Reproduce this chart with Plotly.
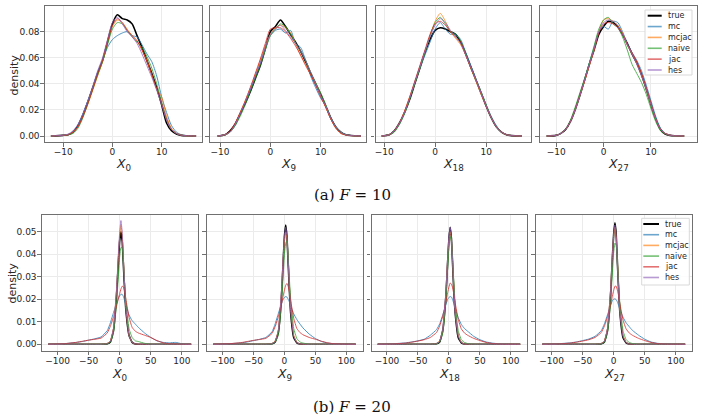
import plotly.graph_objects as go

W, H = 703, 418

series = ["true", "mc", "mcjac", "naive", "jac", "hes"]
colors = {"true": "#000000", "mc": "#1f77b4", "mcjac": "#ff7f0e",
          "naive": "#2ca02c", "jac": "#d62728", "hes": "#9467bd"}

# ---------------- F = 10 ----------------
x_a0 = [-12.5, -10, -9, -8, -7, -6, -5, -4, -3, -2, -1, 0, 1, 2, 3, 4, 5, 6, 7, 8, 9, 10, 11, 12, 13, 14, 15, 17]
a0_true = [0, 0.0005, 0.001, 0.003, 0.008, 0.016, 0.026, 0.037, 0.048, 0.058, 0.072, 0.086, 0.093, 0.090, 0.089, 0.086, 0.077, 0.068, 0.058, 0.048, 0.037, 0.024, 0.010, 0.004, 0.0015, 0.0005, 0.0002, 0]
a0_mc = [0, 0.0005, 0.001, 0.003, 0.008, 0.017, 0.027, 0.037, 0.049, 0.058, 0.068, 0.074, 0.077, 0.079, 0.080, 0.077, 0.076, 0.070, 0.063, 0.057, 0.046, 0.030, 0.018, 0.008, 0.003, 0.001, 0.0003, 0]
a0_mcjac = [0, 0.0005, 0.001, 0.003, 0.007, 0.015, 0.024, 0.035, 0.046, 0.057, 0.072, 0.084, 0.089, 0.087, 0.082, 0.077, 0.073, 0.066, 0.058, 0.047, 0.036, 0.030, 0.015, 0.006, 0.002, 0.0007, 0.0002, 0]
a0_naive = [0, 0.0005, 0.001, 0.002, 0.006, 0.014, 0.025, 0.036, 0.047, 0.057, 0.070, 0.082, 0.087, 0.086, 0.081, 0.076, 0.072, 0.068, 0.061, 0.052, 0.040, 0.026, 0.013, 0.005, 0.002, 0.0007, 0.0002, 0]
a0_jac = [0, 0.0005, 0.001, 0.003, 0.007, 0.015, 0.025, 0.036, 0.048, 0.058, 0.073, 0.085, 0.090, 0.087, 0.081, 0.077, 0.073, 0.066, 0.057, 0.047, 0.036, 0.025, 0.013, 0.005, 0.002, 0.0006, 0.0002, 0]
a0_hes = [0, 0.0006, 0.0015, 0.004, 0.009, 0.017, 0.027, 0.038, 0.050, 0.060, 0.074, 0.087, 0.091, 0.086, 0.080, 0.076, 0.071, 0.063, 0.054, 0.045, 0.035, 0.024, 0.012, 0.005, 0.002, 0.0006, 0.0002, 0]

x_a9 = [-10.5, -9, -8, -7, -6, -5, -4, -3, -2, -1, 0, 1, 2, 3, 4, 5, 6, 7, 8, 9, 10, 11, 12, 13, 14, 15, 16, 18]
a9_true = [0, 0.001, 0.004, 0.009, 0.017, 0.025, 0.034, 0.044, 0.054, 0.067, 0.080, 0.084, 0.089, 0.084, 0.078, 0.072, 0.065, 0.057, 0.048, 0.040, 0.032, 0.023, 0.014, 0.007, 0.003, 0.001, 0.0004, 0]
a9_mc = [0, 0.001, 0.003, 0.008, 0.017, 0.026, 0.035, 0.046, 0.056, 0.067, 0.077, 0.081, 0.082, 0.079, 0.081, 0.071, 0.068, 0.058, 0.046, 0.037, 0.029, 0.023, 0.013, 0.007, 0.003, 0.001, 0.0004, 0]
a9_mcjac = [0, 0.001, 0.003, 0.009, 0.018, 0.027, 0.037, 0.047, 0.058, 0.069, 0.078, 0.083, 0.085, 0.083, 0.079, 0.071, 0.062, 0.055, 0.047, 0.040, 0.031, 0.022, 0.013, 0.006, 0.002, 0.0008, 0.0003, 0]
a9_naive = [0, 0.0008, 0.003, 0.008, 0.015, 0.024, 0.034, 0.044, 0.054, 0.066, 0.077, 0.082, 0.086, 0.084, 0.078, 0.071, 0.065, 0.058, 0.049, 0.041, 0.033, 0.024, 0.014, 0.007, 0.003, 0.001, 0.0004, 0]
a9_jac = [0, 0.001, 0.004, 0.010, 0.018, 0.027, 0.037, 0.048, 0.059, 0.071, 0.082, 0.083, 0.083, 0.080, 0.075, 0.069, 0.062, 0.054, 0.047, 0.039, 0.030, 0.022, 0.013, 0.006, 0.002, 0.0008, 0.0003, 0]
a9_hes = [0, 0.001, 0.003, 0.009, 0.017, 0.026, 0.036, 0.046, 0.056, 0.068, 0.078, 0.082, 0.085, 0.081, 0.076, 0.071, 0.065, 0.058, 0.049, 0.040, 0.031, 0.023, 0.014, 0.007, 0.003, 0.001, 0.0004, 0]

x_a18 = [-10.5, -9, -8, -7, -6, -5, -4, -3, -2, -1, 0, 1, 2, 3, 4, 5, 6, 7, 8, 9, 10, 11, 12, 13, 14, 15, 17]
a18_true = [0, 0.001, 0.004, 0.010, 0.018, 0.028, 0.040, 0.052, 0.064, 0.074, 0.081, 0.083, 0.082, 0.080, 0.078, 0.072, 0.063, 0.053, 0.043, 0.033, 0.023, 0.014, 0.007, 0.003, 0.001, 0.0003, 0]
a18_mc = [0, 0.001, 0.004, 0.009, 0.018, 0.029, 0.041, 0.052, 0.062, 0.072, 0.082, 0.087, 0.082, 0.078, 0.078, 0.074, 0.064, 0.054, 0.044, 0.034, 0.024, 0.015, 0.008, 0.003, 0.001, 0.0003, 0]
a18_mcjac = [0, 0.001, 0.004, 0.010, 0.019, 0.030, 0.041, 0.053, 0.065, 0.077, 0.088, 0.094, 0.088, 0.080, 0.075, 0.070, 0.062, 0.052, 0.042, 0.032, 0.023, 0.014, 0.007, 0.003, 0.001, 0.0003, 0]
a18_naive = [0, 0.001, 0.003, 0.009, 0.017, 0.028, 0.040, 0.052, 0.064, 0.077, 0.087, 0.091, 0.086, 0.080, 0.078, 0.073, 0.063, 0.052, 0.043, 0.034, 0.024, 0.014, 0.007, 0.003, 0.001, 0.0003, 0]
a18_jac = [0, 0.001, 0.004, 0.010, 0.019, 0.030, 0.042, 0.054, 0.066, 0.078, 0.086, 0.088, 0.085, 0.080, 0.076, 0.072, 0.062, 0.052, 0.043, 0.033, 0.023, 0.014, 0.007, 0.003, 0.001, 0.0003, 0]
a18_hes = [0, 0.001, 0.004, 0.010, 0.018, 0.029, 0.041, 0.053, 0.065, 0.076, 0.085, 0.090, 0.087, 0.081, 0.076, 0.071, 0.062, 0.053, 0.043, 0.033, 0.023, 0.014, 0.007, 0.003, 0.001, 0.0003, 0]

x_a27 = [-12, -10, -9, -8, -7, -6, -5, -4, -3, -2, -1, 0, 1, 2, 3, 4, 5, 6, 7, 8, 9, 10, 11, 12, 13, 14, 15, 17]
a27_true = [0, 0.0005, 0.002, 0.005, 0.011, 0.020, 0.031, 0.043, 0.055, 0.066, 0.078, 0.084, 0.088, 0.087, 0.084, 0.078, 0.071, 0.063, 0.056, 0.047, 0.036, 0.024, 0.013, 0.005, 0.0015, 0.0005, 0.0002, 0]
a27_mc = [0, 0.0005, 0.002, 0.005, 0.011, 0.020, 0.031, 0.043, 0.056, 0.068, 0.080, 0.084, 0.082, 0.088, 0.087, 0.080, 0.071, 0.064, 0.058, 0.050, 0.039, 0.027, 0.015, 0.006, 0.002, 0.0006, 0.0002, 0]
a27_mcjac = [0, 0.0005, 0.002, 0.005, 0.011, 0.020, 0.031, 0.042, 0.054, 0.066, 0.080, 0.089, 0.090, 0.088, 0.085, 0.079, 0.070, 0.063, 0.056, 0.047, 0.036, 0.024, 0.013, 0.005, 0.002, 0.0006, 0.0002, 0]
a27_naive = [0, 0.0005, 0.002, 0.005, 0.012, 0.022, 0.033, 0.044, 0.056, 0.069, 0.082, 0.089, 0.091, 0.086, 0.083, 0.076, 0.066, 0.055, 0.048, 0.041, 0.032, 0.021, 0.011, 0.004, 0.0015, 0.0005, 0.0002, 0]
a27_jac = [0, 0.0005, 0.002, 0.005, 0.011, 0.020, 0.031, 0.042, 0.054, 0.066, 0.079, 0.086, 0.087, 0.086, 0.083, 0.078, 0.070, 0.064, 0.057, 0.048, 0.037, 0.025, 0.013, 0.005, 0.002, 0.0006, 0.0002, 0]
a27_hes = [0, 0.0005, 0.002, 0.005, 0.011, 0.020, 0.031, 0.043, 0.055, 0.067, 0.080, 0.087, 0.089, 0.088, 0.084, 0.078, 0.070, 0.063, 0.055, 0.046, 0.036, 0.024, 0.013, 0.005, 0.002, 0.0006, 0.0002, 0]

# ---------------- F = 20 ----------------
xb = [-115, -90, -70, -60, -50, -40, -30, -20, -15, -10, -5, -2, 0, 2, 4, 6, 8, 10, 15, 20, 25, 30, 40, 50, 60, 70, 80, 90, 100, 115]

b0_true = [0, 0, 0, 0, 0, 0, 0, 0.0002, 0.001, 0.006, 0.022, 0.037, 0.046, 0.050, 0.046, 0.035, 0.024, 0.015, 0.004, 0.0008, 0.0001, 0, 0, 0, 0, 0, 0, 0, 0, 0]
b0_mc = [0, 0.0002, 0.0008, 0.0012, 0.0018, 0.0024, 0.0032, 0.0060, 0.0095, 0.0140, 0.0180, 0.0205, 0.0215, 0.0222, 0.0222, 0.0212, 0.0195, 0.0175, 0.0130, 0.0105, 0.0090, 0.0075, 0.0050, 0.0030, 0.0015, 0.0008, 0.0006, 0.0008, 0.0002, 0]
b0_mcjac = [0, 0, 0, 0, 0, 0, 0, 0.0003, 0.0015, 0.007, 0.024, 0.039, 0.048, 0.053, 0.049, 0.038, 0.026, 0.016, 0.004, 0.0008, 0.0001, 0, 0, 0, 0, 0, 0, 0, 0, 0]
b0_naive = [0, 0, 0, 0, 0, 0, 0, 0.0001, 0.0008, 0.005, 0.018, 0.031, 0.039, 0.043, 0.043, 0.036, 0.027, 0.019, 0.007, 0.003, 0.0015, 0.0012, 0.0004, 0, 0, 0, 0, 0, 0, 0]
b0_jac = [0, 0.0002, 0.0008, 0.0013, 0.0018, 0.0022, 0.0027, 0.0050, 0.0080, 0.0120, 0.0170, 0.0205, 0.0225, 0.0245, 0.0258, 0.0255, 0.0235, 0.0200, 0.0120, 0.0075, 0.0058, 0.0050, 0.0040, 0.0030, 0.0016, 0.0006, 0.0002, 0.0001, 0, 0]
b0_hes = [0, 0, 0, 0, 0, 0, 0, 0.0002, 0.0012, 0.007, 0.025, 0.041, 0.050, 0.055, 0.050, 0.038, 0.026, 0.016, 0.004, 0.0008, 0.0001, 0, 0, 0, 0, 0, 0, 0, 0, 0]

b9_true = [0, 0, 0, 0, 0, 0, 0, 0.0002, 0.001, 0.005, 0.020, 0.037, 0.048, 0.053, 0.048, 0.036, 0.024, 0.014, 0.003, 0.0006, 0.0001, 0, 0, 0, 0, 0, 0, 0, 0, 0]
b9_mc = [0, 0.0002, 0.0006, 0.0010, 0.0016, 0.0022, 0.0030, 0.0055, 0.0090, 0.0135, 0.0178, 0.0200, 0.0208, 0.0212, 0.0210, 0.0200, 0.0188, 0.0170, 0.0135, 0.0110, 0.0090, 0.0072, 0.0045, 0.0025, 0.0012, 0.0005, 0.0002, 0.0001, 0, 0]
b9_mcjac = [0, 0, 0, 0, 0, 0, 0, 0.0003, 0.0014, 0.006, 0.022, 0.038, 0.046, 0.050, 0.047, 0.037, 0.026, 0.016, 0.004, 0.0008, 0.0001, 0, 0, 0, 0, 0, 0, 0, 0, 0]
b9_naive = [0, 0, 0, 0, 0, 0, 0, 0.0001, 0.0008, 0.004, 0.017, 0.031, 0.040, 0.045, 0.046, 0.039, 0.029, 0.020, 0.007, 0.0025, 0.001, 0.0005, 0, 0, 0, 0, 0, 0, 0, 0]
b9_jac = [0, 0.0002, 0.0007, 0.0012, 0.0017, 0.0021, 0.0026, 0.0048, 0.0078, 0.0120, 0.0175, 0.0215, 0.0240, 0.0262, 0.0270, 0.0258, 0.0232, 0.0195, 0.0115, 0.0070, 0.0052, 0.0042, 0.0030, 0.0022, 0.0013, 0.0006, 0.0002, 0.0001, 0, 0]
b9_hes = [0, 0, 0, 0, 0, 0, 0, 0.0002, 0.0011, 0.006, 0.023, 0.039, 0.048, 0.052, 0.048, 0.037, 0.025, 0.015, 0.0035, 0.0007, 0.0001, 0, 0, 0, 0, 0, 0, 0, 0, 0]

b18_true = [0, 0, 0, 0, 0, 0, 0, 0.0002, 0.001, 0.006, 0.021, 0.037, 0.047, 0.052, 0.047, 0.035, 0.023, 0.014, 0.003, 0.0006, 0.0001, 0, 0, 0, 0, 0, 0, 0, 0, 0]
b18_mc = [0, 0.0002, 0.0006, 0.0010, 0.0015, 0.0022, 0.0040, 0.0065, 0.0090, 0.0130, 0.0175, 0.0200, 0.0208, 0.0212, 0.0210, 0.0198, 0.0180, 0.0160, 0.0118, 0.0088, 0.0070, 0.0058, 0.0035, 0.0020, 0.0010, 0.0005, 0.0002, 0.0001, 0, 0]
b18_mcjac = [0, 0, 0, 0, 0, 0, 0, 0.0003, 0.0014, 0.006, 0.022, 0.038, 0.046, 0.050, 0.046, 0.036, 0.025, 0.015, 0.004, 0.0008, 0.0001, 0, 0, 0, 0, 0, 0, 0, 0, 0]
b18_naive = [0, 0, 0, 0, 0, 0, 0, 0.0001, 0.0009, 0.005, 0.019, 0.034, 0.043, 0.048, 0.046, 0.037, 0.027, 0.018, 0.006, 0.002, 0.0008, 0.0003, 0, 0, 0, 0, 0, 0, 0, 0]
b18_jac = [0, 0.0001, 0.0005, 0.0009, 0.0014, 0.0020, 0.0030, 0.0052, 0.0080, 0.0125, 0.0185, 0.0230, 0.0255, 0.0272, 0.0268, 0.0250, 0.0222, 0.0185, 0.0110, 0.0068, 0.0050, 0.0040, 0.0026, 0.0016, 0.0008, 0.0003, 0.0001, 0, 0, 0]
b18_hes = [0, 0, 0, 0, 0, 0, 0, 0.0002, 0.0012, 0.007, 0.023, 0.039, 0.048, 0.052, 0.047, 0.036, 0.024, 0.014, 0.0035, 0.0007, 0.0001, 0, 0, 0, 0, 0, 0, 0, 0, 0]

b27_true = [0, 0, 0, 0, 0, 0, 0, 0.0002, 0.001, 0.006, 0.022, 0.039, 0.049, 0.054, 0.049, 0.036, 0.024, 0.014, 0.003, 0.0006, 0.0001, 0, 0, 0, 0, 0, 0, 0, 0, 0]
b27_mc = [0, 0.0002, 0.0006, 0.0010, 0.0016, 0.0023, 0.0035, 0.0060, 0.0090, 0.0130, 0.0172, 0.0195, 0.0200, 0.0202, 0.0198, 0.0188, 0.0172, 0.0155, 0.0120, 0.0095, 0.0078, 0.0062, 0.0040, 0.0022, 0.0010, 0.0004, 0.0002, 0.0001, 0, 0]
b27_mcjac = [0, 0, 0, 0, 0, 0, 0, 0.0003, 0.0014, 0.007, 0.024, 0.040, 0.048, 0.052, 0.048, 0.037, 0.025, 0.015, 0.004, 0.0008, 0.0001, 0, 0, 0, 0, 0, 0, 0, 0, 0]
b27_naive = [0, 0, 0, 0, 0, 0, 0, 0.0001, 0.0008, 0.005, 0.018, 0.033, 0.041, 0.045, 0.044, 0.036, 0.026, 0.018, 0.006, 0.002, 0.0008, 0.0003, 0, 0, 0, 0, 0, 0, 0, 0]
b27_jac = [0, 0.0001, 0.0005, 0.0009, 0.0014, 0.0020, 0.0030, 0.0052, 0.0080, 0.0120, 0.0175, 0.0215, 0.0240, 0.0258, 0.0258, 0.0240, 0.0215, 0.0180, 0.0108, 0.0068, 0.0050, 0.0040, 0.0026, 0.0016, 0.0008, 0.0003, 0.0001, 0, 0, 0]
b27_hes = [0, 0, 0, 0, 0, 0, 0, 0.0002, 0.0012, 0.007, 0.024, 0.040, 0.049, 0.053, 0.048, 0.036, 0.024, 0.014, 0.0035, 0.0007, 0.0001, 0, 0, 0, 0, 0, 0, 0, 0, 0]

top_panels = [
    (x_a0, [a0_true, a0_mc, a0_mcjac, a0_naive, a0_jac, a0_hes]),
    (x_a9, [a9_true, a9_mc, a9_mcjac, a9_naive, a9_jac, a9_hes]),
    (x_a18, [a18_true, a18_mc, a18_mcjac, a18_naive, a18_jac, a18_hes]),
    (x_a27, [a27_true, a27_mc, a27_mcjac, a27_naive, a27_jac, a27_hes]),
]
bot_panels = [
    (xb, [b0_true, b0_mc, b0_mcjac, b0_naive, b0_jac, b0_hes]),
    (xb, [b9_true, b9_mc, b9_mcjac, b9_naive, b9_jac, b9_hes]),
    (xb, [b18_true, b18_mc, b18_mcjac, b18_naive, b18_jac, b18_hes]),
    (xb, [b27_true, b27_mc, b27_mcjac, b27_naive, b27_jac, b27_hes]),
]
var_labels = ["0", "9", "18", "27"]

top_xranges = [[-13.7, 18.2], [-12, 19], [-11.7, 18.8], [-13.4, 19.7]]
bot_xranges = [[-125, 126], [-125, 126], [-125, 126], [-125, 126]]
top_yrange = [-0.0046, 0.0997]
bot_yrange = [-0.0028, 0.0577]
top_yticks = [0.0, 0.02, 0.04, 0.06, 0.08]
bot_yticks = [0.0, 0.01, 0.02, 0.03, 0.04, 0.05]

# layout geometry in pixels
top_px = [(45, 202), (210, 366), (375.5, 531), (540, 697)]
bot_px = [(42, 198), (207, 362.5), (371.5, 527), (536, 692)]
top_py = (6, 142)
bot_py = (214.5, 350.5)

def xd(a, b):
    return [a / W, b / W]

def yd(t, b):
    return [1 - b / H, 1 - t / H]

fig = go.Figure()
FONT = "DejaVu Sans"
frame = "#707070"
grid = "#ebebeb"
tickfont = dict(family=FONT, size=9, color="#262626")

def add_panel(idx, xs, ys_list, spline):
    ax = "" if idx == 1 else str(idx)
    for name, ys in zip(series, ys_list):
        is_true = name == "true"
        fig.add_trace(go.Scatter(
            x=xs, y=ys, mode="lines", name=name, showlegend=False,
            line=dict(color=colors[name], width=1.6 if is_true else 1.0,
                      shape="spline", smoothing=spline),
            opacity=1.0 if is_true else 0.8,
            xaxis="x" + ax, yaxis="y" + ax, hoverinfo="skip"))

for i, (xs, ys) in enumerate(top_panels):
    add_panel(i + 1, xs, ys, 0.7)
for i, (xs, ys) in enumerate(bot_panels):
    add_panel(i + 5, xs, ys, 0.35)

layout = dict(width=W, height=H, margin=dict(l=0, r=0, t=0, b=0),
              paper_bgcolor="white", plot_bgcolor="white", showlegend=False)

def axis_common():
    return dict(showline=True, mirror=True, linecolor=frame, linewidth=1.2,
                ticks="outside", ticklen=3.5, tickwidth=1, tickcolor=frame,
                showgrid=True, gridcolor=grid, gridwidth=1, zeroline=False,
                tickfont=tickfont)

for i in range(8):
    n = i + 1
    key = "" if n == 1 else str(n)
    top = i < 4
    px = top_px[i] if top else bot_px[i - 4]
    py = top_py if top else bot_py
    xa = axis_common()
    xa.update(domain=xd(*px), anchor="y" + key, ticklabelstandoff=-2,
              range=top_xranges[i] if top else bot_xranges[i - 4])
    if top:
        xa.update(tickvals=[-10, 0, 10], ticktext=["\u221210", "0", "10"])
    else:
        xa.update(tickvals=[-100, -50, 0, 50, 100],
                  ticktext=["\u2212100", "\u221250", "0", "50", "100"])
    ya = axis_common()
    ya.update(domain=yd(*py), anchor="x" + key, ticklabelstandoff=-1,
              range=top_yrange if top else bot_yrange,
              tickvals=top_yticks if top else bot_yticks,
              tickformat=".2f", showticklabels=(i in (0, 4)))
    layout["xaxis" + key] = xa
    layout["yaxis" + key] = ya

fig.update_layout(**layout)

# axis titles
for i in range(8):
    top = i < 4
    px = top_px[i] if top else bot_px[i - 4]
    cx = (px[0] + px[1]) / 2
    cy = 164 if top else 374
    fig.add_annotation(x=cx / W, y=1 - cy / H, xref="paper", yref="paper",
                       text="<i>X</i><sub>" + var_labels[i % 4] + "</sub>",
                       showarrow=False, font=dict(family=FONT, size=12.5, color="#262626"),
                       xanchor="center", yanchor="middle")

for cx, cy in ((13.5, 75), (11.5, 283)):
    fig.add_annotation(x=cx / W, y=1 - cy / H, xref="paper", yref="paper",
                       text="density", textangle=-90, showarrow=False,
                       font=dict(family=FONT, size=11, color="#262626"),
                       xanchor="center", yanchor="middle")

# captions
SERIF = "DejaVu Serif"
fig.add_annotation(x=352 / W, y=1 - 195 / H, xref="paper", yref="paper",
                   text="(a) <i>F</i> = 10", showarrow=False,
                   font=dict(family=SERIF, size=15, color="#111"),
                   xanchor="center", yanchor="middle")
fig.add_annotation(x=352 / W, y=1 - 407 / H, xref="paper", yref="paper",
                   text="(b) <i>F</i> = 20", showarrow=False,
                   font=dict(family=SERIF, size=15, color="#111"),
                   xanchor="center", yanchor="middle")

# legends (drawn in the 4th panel of each row)
def legend(box, y0, dy, lx0, lx1, tx):
    fig.add_shape(type="rect", xref="paper", yref="paper",
                  x0=box[0] / W, x1=box[1] / W, y0=1 - box[3] / H, y1=1 - box[2] / H,
                  line=dict(color="#d9d9d9", width=1), fillcolor="rgba(255,255,255,0.85)")
    for k, name in enumerate(series):
        yy = 1 - (y0 + k * dy) / H
        fig.add_shape(type="line", xref="paper", yref="paper",
                      x0=lx0 / W, x1=lx1 / W, y0=yy, y1=yy,
                      line=dict(color=colors[name], width=2 if name == "true" else 1.6),
                      opacity=1.0 if name == "true" else 0.65)
        fig.add_annotation(x=tx / W, y=yy, xref="paper", yref="paper", text=name,
                           showarrow=False, xanchor="left", yanchor="middle",
                           font=dict(family=FONT, size=8, color="#262626"))

legend((645, 692, 10, 75), 15.7, 10.86, 647.7, 661.7, 666)
legend((641.7, 689.3, 218.3, 285), 224, 10.7, 643.3, 659, 663)

fig.write_html("out.html")
